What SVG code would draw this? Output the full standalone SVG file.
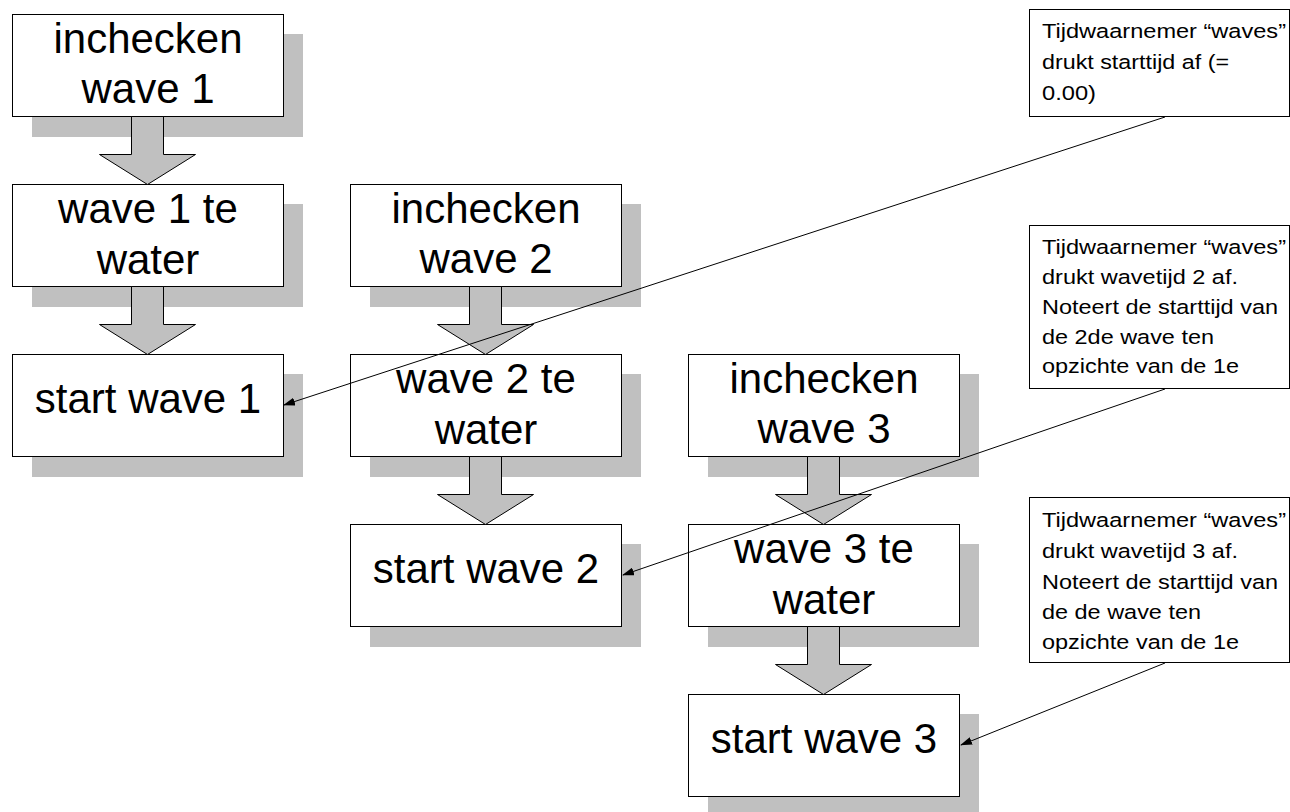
<svg xmlns="http://www.w3.org/2000/svg" width="1290" height="812" viewBox="0 0 1290 812">
<style>
.sh{fill:#c0c0c0;stroke:none}
.bx{fill:#fff;stroke:#000;stroke-width:1}
.big{font-family:"Liberation Sans",Arial,sans-serif;font-size:42px;fill:#000;text-anchor:middle}
.nt{font-family:"Liberation Sans",Arial,sans-serif;font-size:20.5px;fill:#000}
.blk{fill:#c0c0c0;stroke:#000;stroke-width:1}
.ln{stroke:#000;stroke-width:1;fill:none;marker-end:url(#ah)}
</style>
<defs>
<marker id="ah" markerWidth="12" markerHeight="8" refX="11" refY="4" orient="auto" markerUnits="userSpaceOnUse">
<path d="M0,0 L12,4 L0,8 z" fill="#000"/>
</marker>
</defs>
<rect width="1290" height="812" fill="#fff"/>
<g id="n-inchecken1">
<rect class="sh" x="32" y="34" width="271" height="103"/>
<rect class="bx" x="12.5" y="14.5" width="271" height="102"/>
<text class="big" x="148" y="53">inchecken</text>
<text class="big" x="148" y="103">wave 1</text>
</g>
<g id="n-water1">
<rect class="sh" x="32" y="204" width="271" height="103"/>
<rect class="bx" x="12.5" y="184.5" width="271" height="102"/>
<text class="big" x="148" y="223">wave 1 te</text>
<text class="big" x="148" y="274">water</text>
</g>
<g id="n-start1">
<rect class="sh" x="32" y="374" width="271" height="103"/>
<rect class="bx" x="12.5" y="354.5" width="271" height="102"/>
<text class="big" x="148" y="413">start wave 1</text>
</g>
<g id="n-inchecken2">
<rect class="sh" x="370" y="204" width="271" height="103"/>
<rect class="bx" x="350.5" y="184.5" width="271" height="102"/>
<text class="big" x="486" y="223">inchecken</text>
<text class="big" x="486" y="273">wave 2</text>
</g>
<g id="n-water2">
<rect class="sh" x="370" y="374" width="271" height="103"/>
<rect class="bx" x="350.5" y="354.5" width="271" height="102"/>
<text class="big" x="486" y="393">wave 2 te</text>
<text class="big" x="486" y="444">water</text>
</g>
<g id="n-start2">
<rect class="sh" x="370" y="544" width="271" height="103"/>
<rect class="bx" x="350.5" y="524.5" width="271" height="102"/>
<text class="big" x="486" y="583">start wave 2</text>
</g>
<g id="n-inchecken3">
<rect class="sh" x="708" y="374" width="271" height="103"/>
<rect class="bx" x="688.5" y="354.5" width="271" height="102"/>
<text class="big" x="824" y="393">inchecken</text>
<text class="big" x="824" y="443">wave 3</text>
</g>
<g id="n-water3">
<rect class="sh" x="708" y="544" width="271" height="103"/>
<rect class="bx" x="688.5" y="524.5" width="271" height="102"/>
<text class="big" x="824" y="563">wave 3 te</text>
<text class="big" x="824" y="614">water</text>
</g>
<g id="n-start3">
<rect class="sh" x="708" y="714" width="271" height="103"/>
<rect class="bx" x="688.5" y="694.5" width="271" height="102"/>
<text class="big" x="824" y="753">start wave 3</text>
</g>
<g id="note1">
<rect class="bx" x="1029.5" y="9.5" width="260" height="107"/>
<text class="nt" x="1042" y="38" textLength="244" lengthAdjust="spacingAndGlyphs">Tijdwaarnemer “waves”</text>
<text class="nt" x="1042" y="69" textLength="187" lengthAdjust="spacingAndGlyphs">drukt starttijd af (=</text>
<text class="nt" x="1042" y="100" textLength="54" lengthAdjust="spacingAndGlyphs">0.00)</text>
</g>
<g id="note2">
<rect class="bx" x="1029.5" y="225.5" width="260" height="163"/>
<text class="nt" x="1042" y="254" textLength="244" lengthAdjust="spacingAndGlyphs">Tijdwaarnemer “waves”</text>
<text class="nt" x="1042" y="284" textLength="196" lengthAdjust="spacingAndGlyphs">drukt wavetijd 2 af.</text>
<text class="nt" x="1042" y="314" textLength="236" lengthAdjust="spacingAndGlyphs">Noteert de starttijd van</text>
<text class="nt" x="1042" y="344" textLength="172" lengthAdjust="spacingAndGlyphs">de 2de wave ten</text>
<text class="nt" x="1042" y="373" textLength="197" lengthAdjust="spacingAndGlyphs">opzichte van de 1e</text>
</g>
<g id="note3">
<rect class="bx" x="1029.5" y="497.5" width="260" height="165"/>
<text class="nt" x="1042" y="527" textLength="244" lengthAdjust="spacingAndGlyphs">Tijdwaarnemer “waves”</text>
<text class="nt" x="1042" y="558" textLength="196" lengthAdjust="spacingAndGlyphs">drukt wavetijd 3 af.</text>
<text class="nt" x="1042" y="589" textLength="236" lengthAdjust="spacingAndGlyphs">Noteert de starttijd van</text>
<text class="nt" x="1042" y="619" textLength="159" lengthAdjust="spacingAndGlyphs">de de wave ten</text>
<text class="nt" x="1042" y="649" textLength="197" lengthAdjust="spacingAndGlyphs">opzichte van de 1e</text>
</g>
<g id="connectors">
<polygon class="blk" points="131.5,116.5 163.5,116.5 163.5,154.5 195.5,154.5 147.5,184.5 99.5,154.5 131.5,154.5"/>
<polygon class="blk" points="131.5,286.5 163.5,286.5 163.5,324.5 195.5,324.5 147.5,354.5 99.5,324.5 131.5,324.5"/>
<polygon class="blk" points="469.5,286.5 501.5,286.5 501.5,324.5 533.5,324.5 485.5,354.5 437.5,324.5 469.5,324.5"/>
<polygon class="blk" points="469.5,456.5 501.5,456.5 501.5,494.5 533.5,494.5 485.5,524.5 437.5,494.5 469.5,494.5"/>
<polygon class="blk" points="807.5,456.5 839.5,456.5 839.5,494.5 871.5,494.5 823.5,524.5 775.5,494.5 807.5,494.5"/>
<polygon class="blk" points="807.5,626.5 839.5,626.5 839.5,664.5 871.5,664.5 823.5,694.5 775.5,664.5 807.5,664.5"/>
<line class="ln" x1="1165" y1="117" x2="284" y2="405"/>
<line class="ln" x1="1165" y1="389" x2="623" y2="575"/>
<line class="ln" x1="1165" y1="663" x2="961" y2="745"/>
</g>
</svg>
